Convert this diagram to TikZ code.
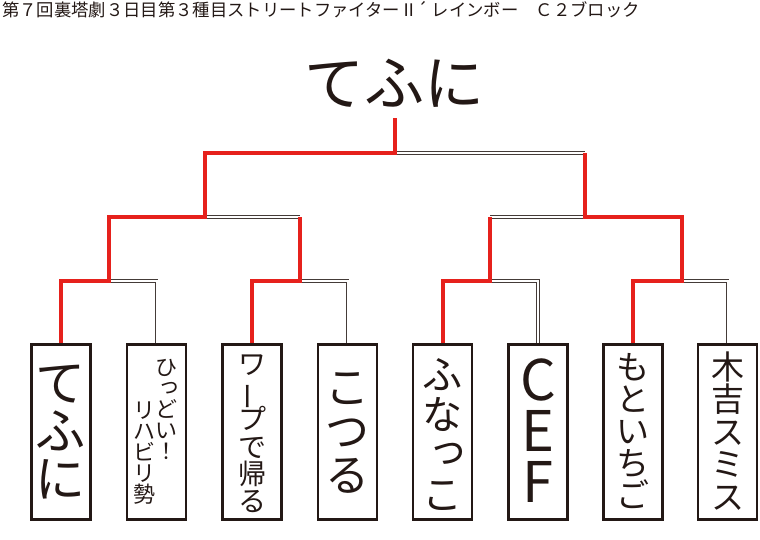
\documentclass[tikz,border=0pt]{standalone}
\usepackage{fontspec}
\setmainfont{Noto Sans CJK JP}
\usepackage{graphicx}
\definecolor{winred}{RGB}{230,33,28}
\definecolor{ink}{RGB}{35,24,21}
\newcommand\vchoon{\rotatebox[origin=c]{90}{ー}}
\newcommand\vsmalltsu{\makebox[1em][l]{\hspace*{0.15em}\raisebox{0.15em}{っ}}}
\tikzset{
  entrybox/.style={draw=ink, line width=2.2pt, minimum width=44.25pt, minimum height=131.25pt, inner sep=0pt},
  vtxt/.style={inner sep=0pt, align=center, text=ink},
  win/.style={draw=winred, line width=3pt},
  lose/.style={draw=ink!85, double=white, line width=0.6pt, double distance=1.5pt},
}
\begin{document}
\begin{tikzpicture}[x=0.75pt,y=-0.75pt]
\lineskiplimit=-1000pt
\useasboundingbox (0,0) rectangle (760,539);
% title
\node[anchor=north west, inner sep=0pt, text=ink, font=\fontsize{13pt}{14pt}\selectfont] (title) at (2,1) {第７回裏塔劇３日目第３種目ストリートファイターⅡ´ レインボー　Ｃ２ブロック};
% champion
\node[inner sep=0pt, text=ink, font=\fontsize{45pt}{46pt}\selectfont] (champ) at (394,83) {てふに};
% boxes
\foreach \i/\x in {1/61,2/156.5,3/252,4/347.5,5/442.5,6/538,7/633,8/727.5}
  \node[entrybox] (b\i) at (\x,432) {};
% texts
\node[vtxt, font=\fontsize{37.5pt}{36pt}\selectfont] (t1) at (61,432) {て\\ふ\\に};
\node[vtxt, font=\fontsize{16.5pt}{15.75pt}\selectfont] (t2a) at (166,409.5) {ひ\\\vsmalltsu\\ど\\い\\！};
\node[vtxt, font=\fontsize{16.5pt}{15.75pt}\selectfont] (t2b) at (144,453.5) {リ\\ハ\\ビ\\リ\\勢};
\node[vtxt, font=\fontsize{21pt}{20.6pt}\selectfont] (t3) at (252,434) {ワ\\\vchoon\\プ\\で\\帰\\る};
\node[vtxt, font=\fontsize{33pt}{33pt}\selectfont] (t4) at (347.5,432.5) {こ\\つ\\る};
\node[vtxt, font=\fontsize{30pt}{30pt}\selectfont] (t5) at (442.5,435) {ふ\\な\\\vsmalltsu\\こ};
\node[vtxt, font=\fontsize{42pt}{38pt}\selectfont] (t6) at (538,430.5) {C\\E\\F};
\node[vtxt, font=\fontsize{24.75pt}{24pt}\selectfont] (t7) at (633,431.5) {も\\と\\い\\ち\\ご};
\node[vtxt, font=\fontsize{24.75pt}{24.4pt}\selectfont] (t8) at (727.5,431) {木\\吉\\ス\\ミ\\ス};
% junctions
\coordinate (j1) at (108.5,281);
\coordinate (j2) at (300,281);
\coordinate (j3) at (490,281);
\coordinate (j4) at (681.5,281);
\coordinate (k1) at (204.5,217);
\coordinate (k2) at (585,217);
\coordinate (r) at (394.5,153);
\coordinate (top) at (394.5,118);
% losing lines
\draw[lose] (b2.north) |- (j1);
\draw[lose] (b4.north) |- (j2);
\draw[lose] (b6.north) |- (j3);
\draw[lose] (b8.north) |- (j4);
\draw[lose] (j2 |- k1) -- (k1);
\draw[lose] (j3 |- k2) -- (k2);
\draw[lose] (k2 |- r) -- (r);
% winning lines
\draw[win] (b1.north) |- (j1) |- (k1) |- (r) -- (top);
\draw[win] (b3.north) |- (j2) -- (j2 |- k1);
\draw[win] (b5.north) |- (j3) -- (j3 |- k2);
\draw[win] (b7.north) |- (j4) |- (k2) -- (k2 |- r);
\end{tikzpicture}
\end{document}
